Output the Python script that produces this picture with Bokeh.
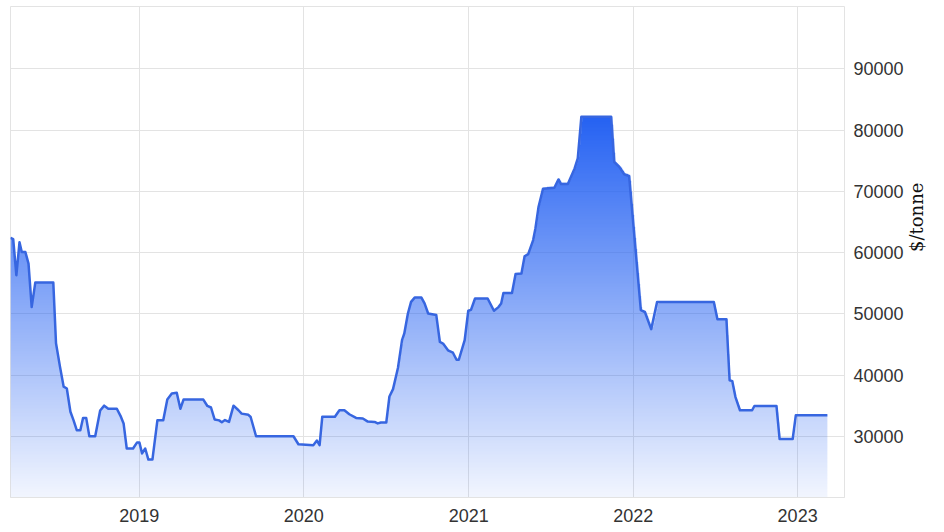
import math
import numpy as np
import pandas as pd
from bokeh.plotting import figure
from bokeh.models import Range1d, FixedTicker, DatetimeTickFormatter
from bokeh.embed import file_html
from bokeh.resources import INLINE

# ---- data ----
dates = [
    "2018-03-21", "2018-03-27", "2018-04-03", "2018-04-10", "2018-04-15", "2018-04-23",
    "2018-04-30", "2018-05-07", "2018-05-15", "2018-06-24", "2018-06-30", "2018-07-09",
    "2018-07-17", "2018-07-24", "2018-08-01", "2018-08-08", "2018-08-15", "2018-08-23",
    "2018-08-29", "2018-09-05", "2018-09-12", "2018-09-25", "2018-10-06", "2018-10-15",
    "2018-10-24", "2018-11-12", "2018-11-21", "2018-11-27", "2018-12-04", "2018-12-18",
    "2018-12-27", "2019-01-01", "2019-01-07", "2019-01-14", "2019-01-21", "2019-01-30",
    "2019-02-10", "2019-02-23", "2019-03-04", "2019-03-14", "2019-03-25", "2019-04-02",
    "2019-04-09", "2019-05-23", "2019-06-01", "2019-06-09", "2019-06-17", "2019-06-27",
    "2019-07-03", "2019-07-10", "2019-07-19", "2019-07-29", "2019-08-09", "2019-08-16",
    "2019-08-31", "2019-09-05", "2019-09-17", "2019-12-09", "2019-12-20", "2020-01-22",
    "2020-01-30", "2020-02-05", "2020-02-11", "2020-03-10", "2020-03-20", "2020-03-31",
    "2020-04-11", "2020-04-26", "2020-05-11", "2020-05-22", "2020-06-06", "2020-06-13",
    "2020-06-20", "2020-07-02", "2020-07-09", "2020-07-17", "2020-07-28", "2020-08-06",
    "2020-08-11", "2020-08-19", "2020-08-26", "2020-09-03", "2020-09-18", "2020-09-25",
    "2020-10-03", "2020-10-21", "2020-10-29", "2020-11-05", "2020-11-16", "2020-11-27",
    "2020-12-05", "2020-12-10", "2020-12-23", "2020-12-31", "2021-01-06", "2021-01-15",
    "2021-02-12", "2021-02-26", "2021-03-08", "2021-03-14", "2021-03-19", "2021-04-07",
    "2021-04-15", "2021-04-28", "2021-05-05", "2021-05-13", "2021-05-24", "2021-05-29",
    "2021-06-05", "2021-06-15", "2021-07-10", "2021-07-19", "2021-07-25", "2021-08-09",
    "2021-08-24", "2021-08-31", "2021-09-08", "2021-11-13", "2021-11-20", "2021-12-01",
    "2021-12-12", "2021-12-23", "2022-01-18", "2022-01-27", "2022-02-10", "2022-02-23",
    "2022-06-29", "2022-07-07", "2022-07-27", "2022-08-03", "2022-08-09", "2022-08-16",
    "2022-08-26", "2022-09-22", "2022-09-27", "2022-11-15", "2022-11-22", "2022-12-21",
    "2022-12-28", "2023-03-08",
]
prices = [
    62400, 62200, 56300, 61700, 60100, 60100,
    58200, 51100, 55100, 55100, 45200, 41300,
    38100, 37800, 34000, 32600, 31000, 31000,
    33000, 33000, 30000, 30000, 34200, 35000,
    34500, 34500, 33200, 32100, 28000, 28000,
    29000, 29000, 27200, 28000, 26200, 26200,
    32600, 32600, 36000, 37000, 37100, 34500,
    36000, 36000, 34950, 34700, 32750, 32600,
    32300, 32650, 32350, 35000, 34250, 33700,
    33500, 33150, 30000, 30000, 28700, 28550,
    29300, 28550, 33200, 33200, 34250, 34250,
    33600, 33000, 32900, 32400, 32350, 32100,
    32250, 32250, 36500, 37700, 41200, 45700,
    46800, 50050, 51950, 52650, 52650, 51700,
    50050, 49800, 45400, 45150, 44050, 43650,
    42500, 42500, 45700, 50500, 50650, 52500,
    52500, 50500, 51100, 51700, 53400, 53400,
    56500, 56600, 59400, 59750, 62050, 63950,
    67500, 70450, 70600, 71950, 71200, 71200,
    73750, 75400, 82200, 82200, 74800, 74000,
    72800, 72500, 50600, 50300, 47500, 51950,
    51950, 49100, 49100, 39150, 39000, 36400,
    34250, 34250, 34950, 34950, 29550, 29550,
    33450, 33450,
]
year_ticks = [2019, 2020, 2021, 2022, 2023]
price_ticks = [30000, 40000, 50000, 60000, 70000, 80000, 90000]
x_start, x_end = "2018-03-21", "2023-04-15"
y_start, y_end = 20000, 100200
y_label = "$/tonne"

# ---- derived ----
to_ms = lambda d: pd.Timestamp(d).value / 1e6
x_ms = np.array([to_ms(d) for d in dates])
y = np.array(prices, dtype=float)
tick_ms = [to_ms(f"{yr}-01-01") for yr in year_ticks]

p = figure(
    width=944, height=532,
    x_axis_type="datetime",
    x_range=Range1d(to_ms(x_start), to_ms(x_end)),
    y_range=Range1d(y_start, y_end),
    y_axis_location="right",
    output_backend="svg", toolbar_location=None,
    min_border_left=10, min_border_top=6, min_border_right=100, min_border_bottom=35,
    background_fill_color="white", border_fill_color="white",
)
p.outline_line_color = "#e3e3e3"
p.outline_line_width = 1

# vertical gradient fill under the curve, semi-transparent (grid shows through where light)
ncols, nrows = 820, 380
base_rgb = (36, 97, 242)
alpha_bottom = 0.06
x0, x1 = x_ms[0], x_ms[-1]
top_val = y.max()
col_ms = x0 + (np.arange(ncols) + 0.5) * (x1 - x0) / ncols
row_val = y_start + (np.arange(nrows) + 0.5) * (top_val - y_start) / nrows
curve_at = np.interp(col_ms, x_ms, y)
inside = row_val[:, None] <= curve_at[None, :]
alpha_row = alpha_bottom + (1 - alpha_bottom) * (row_val - y_start) / (top_val - y_start)
img = np.empty((nrows, ncols), dtype=np.uint32)
view = img.view(dtype=np.uint8).reshape((nrows, ncols, 4))
view[:, :, 0] = base_rgb[0]
view[:, :, 1] = base_rgb[1]
view[:, :, 2] = base_rgb[2]
view[:, :, 3] = np.where(inside, (alpha_row[:, None] * 255).round(), 0).astype(np.uint8)
p.image_rgba(image=[img], x=x0, y=y_start, dw=x1 - x0, dh=top_val - y_start)

p.line(x_ms, y, line_color="#3766e0", line_width=2.5, line_join="round")

# grids
p.xgrid.ticker = FixedTicker(ticks=tick_ms)
p.ygrid.ticker = FixedTicker(ticks=price_ticks)
for g in (p.xgrid, p.ygrid):
    g.grid_line_color = "#e3e3e3"
    g.grid_line_width = 1

# axes
p.xaxis.ticker = FixedTicker(ticks=tick_ms)
p.xaxis.formatter = DatetimeTickFormatter(
    years="%Y", months="%Y", days="%Y", hours="%Y", minutes="%Y", seconds="%Y",
    milliseconds="%Y", microseconds="%Y", minsec="%Y", hourmin="%Y")
p.yaxis.ticker = FixedTicker(ticks=price_ticks)
for ax in (p.xaxis, p.yaxis):
    ax.major_tick_line_color = None
    ax.minor_tick_line_color = None
    ax.major_tick_out = 0
    ax.major_tick_in = 0
    ax.major_label_text_font = "Liberation Sans"
    ax.major_label_text_font_size = "18px"
    ax.major_label_text_color = "#333333"
p.xaxis.axis_line_color = "#e3e3e3"
p.yaxis.axis_line_color = None
p.xaxis.major_label_standoff = 11
p.yaxis.major_label_standoff = 9
# axis extent (invisible rule) chosen so that the title sits where it does in the reference
p.yaxis.bounds = (10000, 90000)

# y-axis title, reading bottom to top
p.yaxis.axis_label = y_label
p.yaxis.axis_label_orientation = math.pi / 2
p.yaxis.axis_label_text_font = "DejaVu Serif"
p.yaxis.axis_label_text_font_style = "normal"
p.yaxis.axis_label_text_font_size = "18px"
p.yaxis.axis_label_text_color = "#111111"
p.yaxis.axis_label_standoff = 10

open("out.html", "w").write(file_html(p, INLINE))
